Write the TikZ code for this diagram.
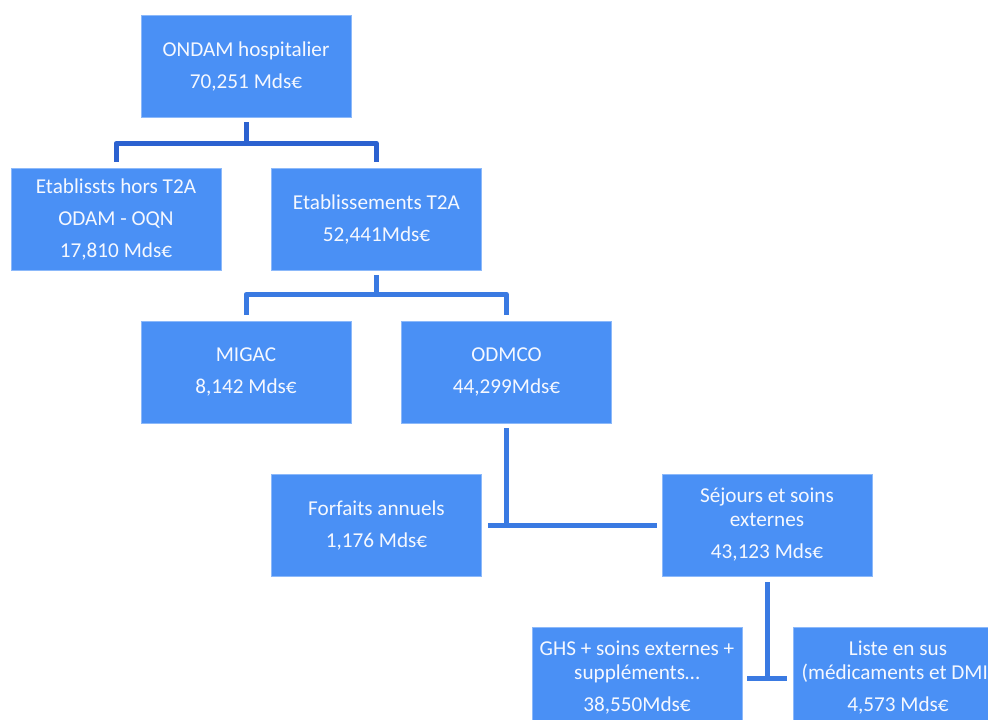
\documentclass[tikz,border=0pt]{standalone}
\usepackage{fontspec}
\setmainfont{Carlito}
\definecolor{boxblue}{RGB}{74,144,245}
\definecolor{boxedge}{RGB}{140,185,250}
\definecolor{connA}{RGB}{44,98,208}
\definecolor{connB}{RGB}{58,122,226}
\definecolor{boxtext}{RGB}{245,248,255}
\begin{document}
\begin{tikzpicture}[x=1bp,y=-1bp,
  box/.style={rectangle, fill=boxblue, draw=boxedge, line width=0.7bp,
    minimum width=210bp, minimum height=102bp, inner sep=0pt, align=center,
    text=boxtext, font=\fontsize{21.2bp}{24bp}\selectfont},
  conn/.style={draw=connB, line width=5bp, line join=round},
  connTop/.style={conn, draw=connA}]
\useasboundingbox (0,0) rectangle (988,720);
\clip (0,0) rectangle (988,720);

\node[box] (ondam) at (246,66)    {ONDAM hospitalier\\[8bp]70,251 Mds€};
\node[box] (hors)  at (116,219)   {Etablissts hors T2A\\[8bp]ODAM - OQN\\[8bp]17,810 Mds€};
\node[box] (t2a)   at (376.5,219) {Etablissements T2A\\[8bp]52,441Mds€};
\node[box] (migac) at (246,372)   {MIGAC\\[8bp]8,142 Mds€};
\node[box] (odmco) at (506.5,372) {ODMCO\\[8bp]44,299Mds€};
\node[box] (forf)  at (376.5,525) {Forfaits annuels\\[8bp]1,176 Mds€};
\node[box] (sej)   at (767,525)   {Séjours et soins\\externes\\[8bp]43,123 Mds€};
\node[box] (ghs)   at (637,678)   {GHS + soins externes +\\suppléments…\\[8bp]38,550Mds€};
\node[box] (liste) at (898,678)   {Liste en sus\\(médicaments et DMI\phantom{)}\\[8bp]4,573 Mds€};

% ONDAM -> hors / T2A
\draw[connTop, shorten <=5bp] (ondam.south) -- ++(0,26) coordinate (j1);
\draw[connTop, shorten >=6bp] (j1) -| (hors.north);
\draw[connTop, shorten >=6bp] (j1) -| (t2a.north);

% T2A -> MIGAC / ODMCO
\draw[conn, shorten <=5bp] (t2a.south) -- ++(0,24) coordinate (j2);
\draw[conn, shorten >=6bp] (j2) -| (migac.north);
\draw[conn, shorten >=6bp] (j2) -| (odmco.north);

% ODMCO -> Forfaits / Sejours
\draw[conn, shorten <=5bp] (odmco.south) -- (odmco.south |- forf.east);
\draw[conn, shorten <=6bp, shorten >=5bp] (forf.east) -- (sej.west);

% Sejours -> GHS / Liste
\draw[conn, shorten <=6bp] (sej.south) -- (sej.south |- ghs.east);
\draw[conn, shorten <=5bp, shorten >=6bp] (ghs.east) -- (liste.west);
\end{tikzpicture}
\end{document}
